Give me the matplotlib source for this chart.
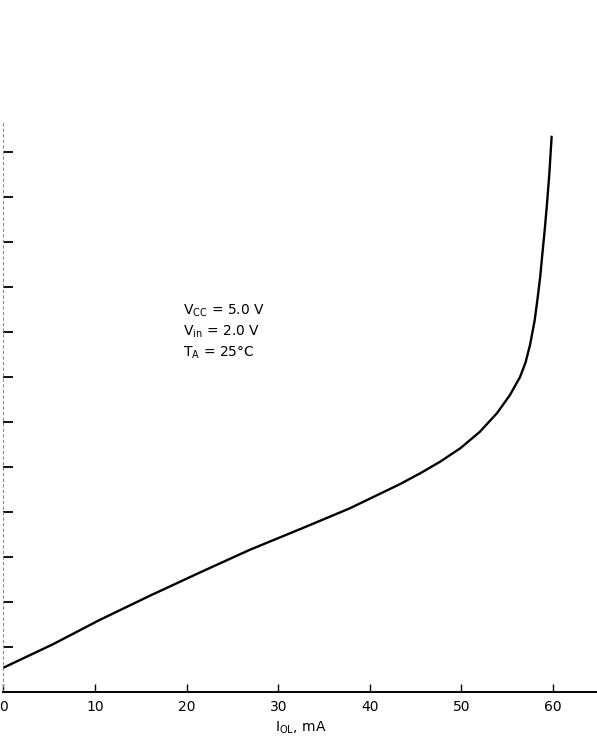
import matplotlib
matplotlib.use("Agg")
import matplotlib.pyplot as plt

# Low-level output current (mA) and low-level output voltage (V)
iol = [0.0, 5.4, 10.5, 16.0, 21.5, 26.9, 32.4, 37.8, 43.3, 45.5, 47.7, 49.9,
       52.0, 53.9, 55.3, 56.4, 57.0, 57.5, 58.0, 58.3, 58.6, 58.85, 59.1, 59.35,
       59.6, 59.85]
vol = [0.027, 0.053, 0.080, 0.107, 0.133, 0.158, 0.181, 0.204, 0.231, 0.243,
       0.256, 0.271, 0.289, 0.310, 0.330, 0.350, 0.366, 0.386, 0.413, 0.436,
       0.461, 0.488, 0.514, 0.543, 0.576, 0.617]

x_ticks = [0, 10, 20, 30, 40, 50, 60]
x_tick_labels = ["0", "10", "20", "30", "40", "50", "60"]
y_ticks = [0.05, 0.10, 0.15, 0.20, 0.25, 0.30, 0.35, 0.40, 0.45, 0.50, 0.55, 0.60]
conditions = [r"V$_{\rm CC}$ = 5.0 V", r"V$_{\rm in}$ = 2.0 V", r"T$_{\rm A}$ = 25°C"]

plt.rcParams["mathtext.default"] = "regular"
plt.rcParams["font.family"] = ["DejaVu Sans"]

W, H = 597, 740
fig = plt.figure(figsize=(W / 100, H / 100), dpi=100)
left = 3.4 / W
bottom = (H - 692) / H
ax = fig.add_axes([left, bottom, 1 - left, 570 / H])
ax.set_xlim(0, (W - 3.4) / 91.6 * 10)
ax.set_ylim(0, 570 / 900)

ax.plot(iol, vol, color="black", lw=1.7, solid_capstyle="round",
        solid_joinstyle="round")

for s in ["top", "right"]:
    ax.spines[s].set_visible(False)
ax.spines["bottom"].set_linewidth(1.4)
ax.spines["left"].set_color("#8a8a8a")
ax.spines["left"].set_linewidth(0.8)
ax.spines["left"].set_linestyle((0, (2, 3)))

ax.set_xticks(x_ticks)
ax.set_xticklabels(x_tick_labels, fontsize=10)
ax.tick_params(axis="x", direction="in", length=6, width=1.0, pad=6)
ax.set_yticks(y_ticks)
ax.set_yticklabels([])
ax.tick_params(axis="y", direction="in", length=7, width=1.3)

ax.set_xlabel(r"I$_{\rm OL}$, mA", fontsize=10, labelpad=4)

for k, txt in enumerate(conditions):
    ax.text(19.6, 0.424 - k * 0.0235, txt, fontsize=10, va="center", ha="left")

fig.savefig("out.png", dpi=100)
